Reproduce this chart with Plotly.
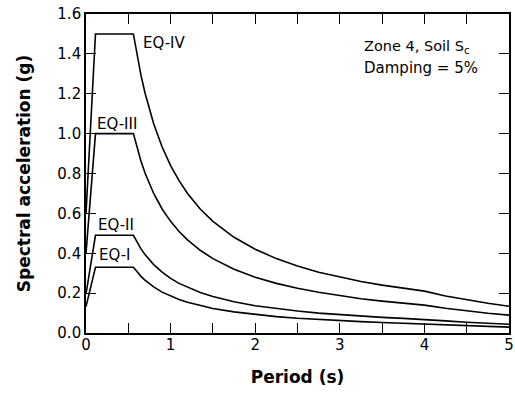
import plotly.graph_objects as go

period = [0, 0.112, 0.56, 0.6, 0.65, 0.7, 0.8, 0.9, 1.0, 1.1, 1.2, 1.35, 1.5,
          1.75, 2.0, 2.25, 2.5, 2.75, 3.0, 3.25, 3.5, 3.75, 4.0, 4.25, 4.5, 4.75, 5.0]

eq_iv = [0.60, 1.50, 1.50, 1.40, 1.292, 1.20, 1.05, 0.933, 0.84, 0.764, 0.70, 0.622, 0.56,
         0.48, 0.42, 0.373, 0.336, 0.305, 0.28, 0.258, 0.24, 0.224, 0.21, 0.186, 0.166, 0.149, 0.134]
eq_iii = [0.40, 1.00, 1.00, 0.933, 0.862, 0.80, 0.70, 0.622, 0.56, 0.509, 0.467, 0.415, 0.373,
          0.32, 0.28, 0.249, 0.224, 0.204, 0.187, 0.172, 0.16, 0.149, 0.14, 0.124, 0.111, 0.099, 0.0896]
eq_ii = [0.196, 0.49, 0.49, 0.457, 0.422, 0.392, 0.343, 0.305, 0.274, 0.249, 0.229, 0.203, 0.183,
         0.157, 0.137, 0.122, 0.110, 0.0998, 0.0915, 0.0844, 0.0784, 0.0732, 0.0686, 0.0608, 0.0542, 0.0486, 0.0439]
eq_i = [0.132, 0.33, 0.33, 0.308, 0.284, 0.264, 0.231, 0.205, 0.185, 0.168, 0.154, 0.137, 0.123,
        0.106, 0.0924, 0.0821, 0.0739, 0.0672, 0.0616, 0.0569, 0.0528, 0.0493, 0.0462, 0.0409, 0.0365, 0.0328, 0.0296]

series = [("EQ-IV", eq_iv), ("EQ-III", eq_iii), ("EQ-II", eq_ii), ("EQ-I", eq_i)]
label_pos = {"EQ-IV": (0.65, 1.455), "EQ-III": (0.105, 1.05), "EQ-II": (0.113, 0.54), "EQ-I": (0.125, 0.392)}

x_tickvals = [0, 1, 2, 3, 4, 5]
x_minor_step = 0.5
y_tickvals = [0.0, 0.2, 0.4, 0.6, 0.8, 1.0, 1.2, 1.4, 1.6]

FONT = "DejaVu Sans, Arial, sans-serif"

fig = go.Figure()
for name, vals in series:
    fig.add_trace(go.Scatter(x=period, y=vals, mode="lines", name=name,
                             line=dict(color="black", width=1.6), showlegend=False))
    lx, ly = label_pos[name]
    fig.add_annotation(x=lx, y=ly, text=name, showarrow=False, xanchor="left", yanchor="middle",
                       font=dict(family=FONT, size=15, color="black"))

fig.add_annotation(x=0.652, y=0.898, xref="paper", yref="paper", xanchor="left", yanchor="middle",
                   text="Zone 4, Soil S<sub>c</sub>", showarrow=False, align="left",
                   font=dict(family=FONT, size=14.5, color="black"))
fig.add_annotation(x=0.652, y=0.831, xref="paper", yref="paper", xanchor="left", yanchor="middle",
                   text="Damping = 5%", showarrow=False, align="left",
                   font=dict(family=FONT, size=15, color="black"))

fig.update_layout(
    width=515, height=394,
    margin=dict(l=86, r=1.5, t=14, b=60.5),
    paper_bgcolor="white", plot_bgcolor="white",
    font=dict(family=FONT, size=15, color="black"),
    xaxis=dict(range=[0, 5], tickvals=x_tickvals, ticks="inside", ticklen=10,
               tickwidth=1.3, tickcolor="black", showline=True, linecolor="black", linewidth=1.6,
               minor=dict(dtick=x_minor_step, ticks="inside", ticklen=10, tickwidth=1.3, tickcolor="black",
                          showgrid=False),
               mirror="ticks", showgrid=False, zeroline=False, ticklabeloverflow="allow",
               ticklabelstandoff=-3,
               title=dict(text="<b>Period (s)</b>", font=dict(size=17), standoff=18)),
    yaxis=dict(range=[0, 1.6], tickvals=y_tickvals, tickformat=".1f", ticks="inside", ticklen=10,
               tickwidth=1.3, tickcolor="black", showline=True, linecolor="black", linewidth=1.6,
               mirror="ticks", showgrid=False, zeroline=False,
               title=dict(text="<b>Spectral acceleration (g)</b>", font=dict(size=17), standoff=22)),
)

fig.write_html("out.html")
